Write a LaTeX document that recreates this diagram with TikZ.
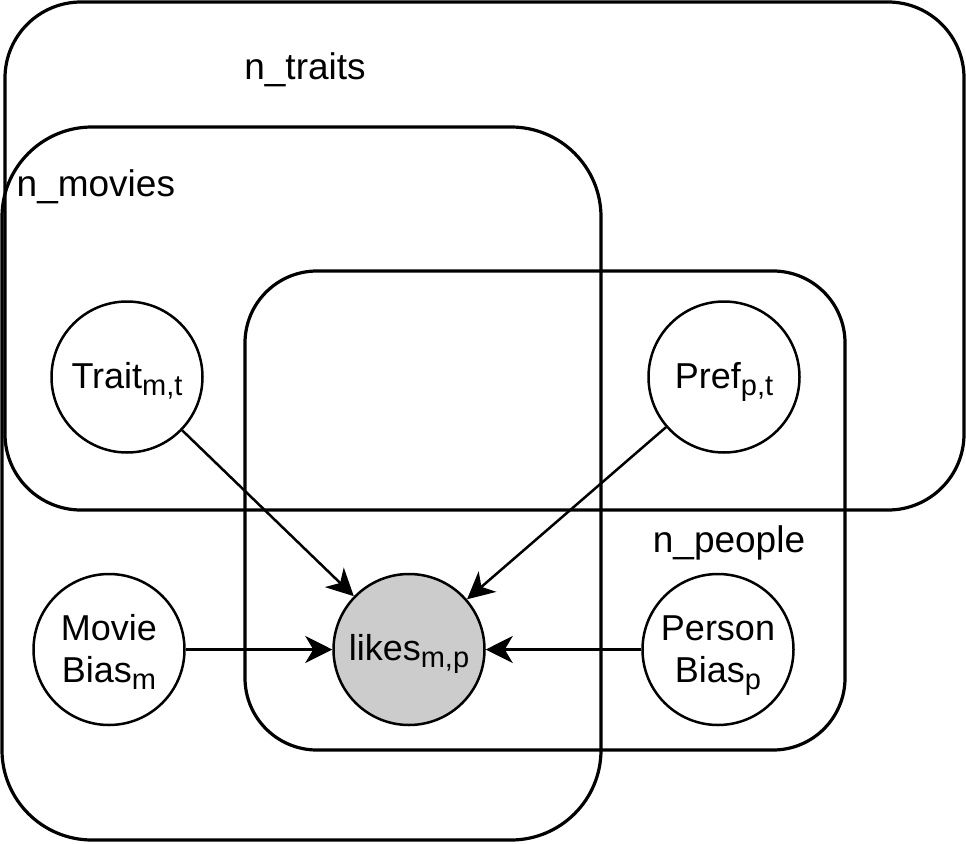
\documentclass[tikz,border=0pt]{standalone}
\usepackage{fontspec}
\setmainfont{Liberation Sans}
\usetikzlibrary{arrows.meta}
\newcommand\sbs[1]{\raisebox{-7pt}{\fontsize{29}{29}\selectfont #1}}
\begin{document}
\begin{tikzpicture}[x=1pt,y=-1pt,
  plate/.style={draw, line width=3.2pt, rectangle, inner sep=0pt},
  var/.style={draw, circle, line width=2.5pt, fill=white, minimum size=151pt, inner sep=0pt, font=\fontsize{36}{42}\selectfont, text depth=0pt},
  obs/.style={var, fill=black!20},
  lbl/.style={font=\fontsize{37}{42}\selectfont, inner sep=0pt},
  edge/.style={line width=2.5pt, -{Stealth[length=27pt,width=27pt,inset=8pt]}}]
\useasboundingbox (0,0) rectangle (966,843);
% plates
\node[plate, rounded corners=76pt, minimum width=959pt, minimum height=508pt] (traits) at (484.5,256) {};
\node[plate, rounded corners=90pt, minimum width=599pt, minimum height=713pt] (movies) at (301.5,483.5) {};
\node[plate, rounded corners=72pt, minimum width=600pt, minimum height=479pt] (people) at (545,510.5) {};
\node[lbl, anchor=base] (ltraits) at (305,80) {n\_traits};
\node[lbl, anchor=base west] (lmovies) at (16.5,196) {n\_movies};
\node[lbl, anchor=base] (lpeople) at (729,552) {n\_people};
% variables
\node[var, text height=22pt] (trait) at (127,377) {Trait\sbs{m,t}};
\node[var, text height=22pt] (pref) at (724,377) {Pref\sbs{p,t}};
\node[obs, text height=22pt] (likes) at (409,649.5) {likes\sbs{m,p}};
\node[var, text height=65pt] (mbias) at (109,649.5) {\begin{tabular}[b]{@{}c@{}}Movie\\Bias\sbs{m}\end{tabular}};
\node[var, text height=65pt] (pbias) at (718,649.5) {\begin{tabular}[b]{@{}c@{}}Person\\Bias\sbs{p}\end{tabular}};
% edges
\draw[edge] (trait) -- (likes);
\draw[edge] (pref) -- (likes);
\draw[edge] (mbias) -- (likes);
\draw[edge] (pbias) -- (likes);
\end{tikzpicture}
\end{document}
